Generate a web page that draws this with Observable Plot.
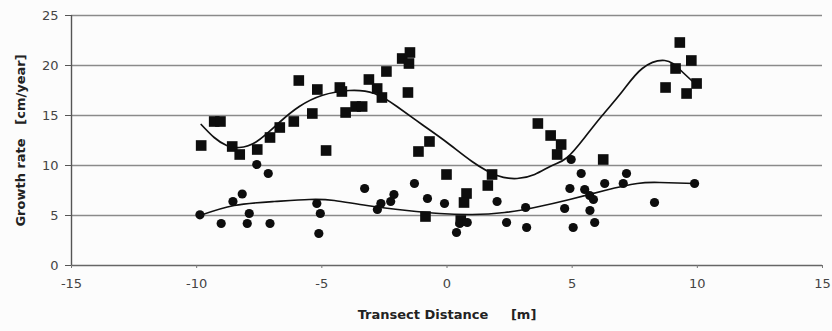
<!DOCTYPE html>
<html>
<head>
<meta charset="utf-8">
<script src="https://cdn.jsdelivr.net/npm/d3@7"></script>
<script src="https://cdn.jsdelivr.net/npm/@observablehq/plot@0.6"></script>
<style>
  html, body { margin: 0; padding: 0; background: #fcfcfc; }
  svg { display: block; }
</style>
</head>
<body>
<div id="chart"></div>
<script>
// Square series (x: transect distance m, y: growth rate cm/year)
const squareX = [-9.82,-9.3,-9.05,-8.58,-8.28,-7.58,-7.07,-6.68,-6.12,-5.92,-5.38,-5.18,-4.83,-4.28,-4.2,-4.05,-3.65,-3.39,-3.12,-2.79,-2.6,-2.42,-1.79,-1.48,-1.52,-1.56,-1.14,-0.7,-0.02,-0.86,0.78,0.68,0.55,1.63,1.8,3.63,4.14,4.56,4.4,6.24,8.73,9.13,9.3,9.76,9.57,9.97];
const squareY = [12.0,14.4,14.4,11.9,11.1,11.6,12.8,13.8,14.4,18.5,15.2,17.6,11.5,17.8,17.4,15.3,15.9,15.9,18.6,17.7,16.8,19.4,20.7,21.3,20.2,17.3,11.4,12.4,9.1,4.9,7.2,6.3,4.5,8.0,9.1,14.2,13.0,12.1,11.1,10.6,17.8,19.7,22.3,20.5,17.2,18.2];
// Circle series
const circleX = [-9.87,-9.02,-8.55,-8.18,-7.6,-7.14,-7.9,-7.98,-7.07,-5.2,-5.06,-5.12,-3.29,-2.78,-2.64,-2.12,-2.25,-1.3,-0.78,-0.1,0.38,0.51,0.81,2.0,2.38,3.14,3.18,4.7,4.91,4.96,5.04,5.36,5.5,5.7,5.85,5.71,5.9,6.3,7.04,7.17,8.29,9.89];
const circleY = [5.07,4.2,6.4,7.15,10.1,9.2,5.2,4.2,4.2,6.2,5.2,3.2,7.7,5.6,6.2,7.1,6.4,8.2,6.7,6.2,3.3,4.2,4.3,6.4,4.3,5.8,3.8,5.7,7.7,10.6,3.8,9.2,7.6,7.0,6.6,5.5,4.3,8.2,8.2,9.2,6.3,8.2];
// Trend lines
const sqTrendX = [-9.82,-9.3,-8.8,-8.3,-7.6,-6.7,-5.9,-5.0,-3.9,-2.9,-2.0,-1.0,0.0,1.0,2.0,2.8,3.5,4.2,4.8,5.5,6.2,7.0,7.8,8.7,9.3,9.9];
const sqTrendY = [14.1,12.8,12.0,11.8,12.4,14.3,15.9,17.0,17.5,17.2,15.9,14.1,12.3,10.4,9.0,8.7,9.1,10.0,10.8,12.8,15.0,17.4,19.7,20.5,19.6,18.2];
const ciTrendX = [-9.87,-8.5,-6.9,-5.5,-4.5,-3.2,-1.6,-0.3,1.0,2.3,3.5,4.9,6.3,7.6,8.5,9.9];
const ciTrendY = [5.0,6.0,6.4,6.6,6.5,6.0,5.5,5.2,5.1,5.3,5.8,6.6,7.5,8.2,8.3,8.2];
// Axes
const xTicks = [-15,-10,-5,0,5,10,15];
const yTicks = [0,5,10,15,20,25];
const xTitle = "Transect Distance\u00a0\u00a0\u00a0\u00a0\u00a0[m]";
const yTitle = "Growth rate\u00a0\u00a0\u00a0[cm/year]";

const squares = squareX.map((x, i) => ({x, y: squareY[i]}));
const circles = circleX.map((x, i) => ({x, y: circleY[i]}));
const sqTrend = sqTrendX.map((x, i) => ({x, y: sqTrendY[i]}));
const ciTrend = ciTrendX.map((x, i) => ({x, y: ciTrendY[i]}));

const chart = Plot.plot({
  width: 832,
  height: 331,
  marginLeft: 71,
  marginRight: 10,
  marginTop: 15,
  marginBottom: 66,
  style: {background: "#fcfcfc", fontFamily: "DejaVu Sans", color: "#444"},
  x: {domain: [-15, 15]},
  y: {domain: [0, 25]},
  marks: [
    Plot.ruleY(yTicks.filter(d => d > 0), {stroke: "#8a8a8a", strokeWidth: 1.6}),
    Plot.ruleY([0], {stroke: "#666", strokeWidth: 1.6}),
    Plot.ruleX([-15], {stroke: "#555", strokeWidth: 1.4}),
    Plot.axisX({ticks: xTicks, tickFormat: d => String(d), tickSize: 3, tickPadding: 10, fontSize: 13, label: null, stroke: "#777"}),
    Plot.axisY({ticks: yTicks, tickFormat: d => String(d), tickSize: 6, tickPadding: 7, fontSize: 13, label: null, stroke: "#555"}),
    Plot.line(sqTrend, {x: "x", y: "y", curve: "natural", stroke: "#111", strokeWidth: 1.7}),
    Plot.line(ciTrend, {x: "x", y: "y", curve: "natural", stroke: "#111", strokeWidth: 1.7}),
    Plot.dot(squares, {x: "x", y: "y", symbol: "square", r: 6, fill: "#0d0d0d", stroke: "none"}),
    Plot.dot(circles, {x: "x", y: "y", r: 4.6, fill: "#0d0d0d", stroke: "none"}),
    Plot.text([xTitle], {frameAnchor: "bottom", dy: 53, fontSize: 13, fontWeight: "bold", fill: "#222"}),
    Plot.text([yTitle], {frameAnchor: "left", textAnchor: "middle", dx: -51, rotate: -90, fontSize: 13, fontWeight: "bold", fill: "#222"})
  ]
});
document.getElementById("chart").appendChild(chart);
</script>
</body>
</html>
